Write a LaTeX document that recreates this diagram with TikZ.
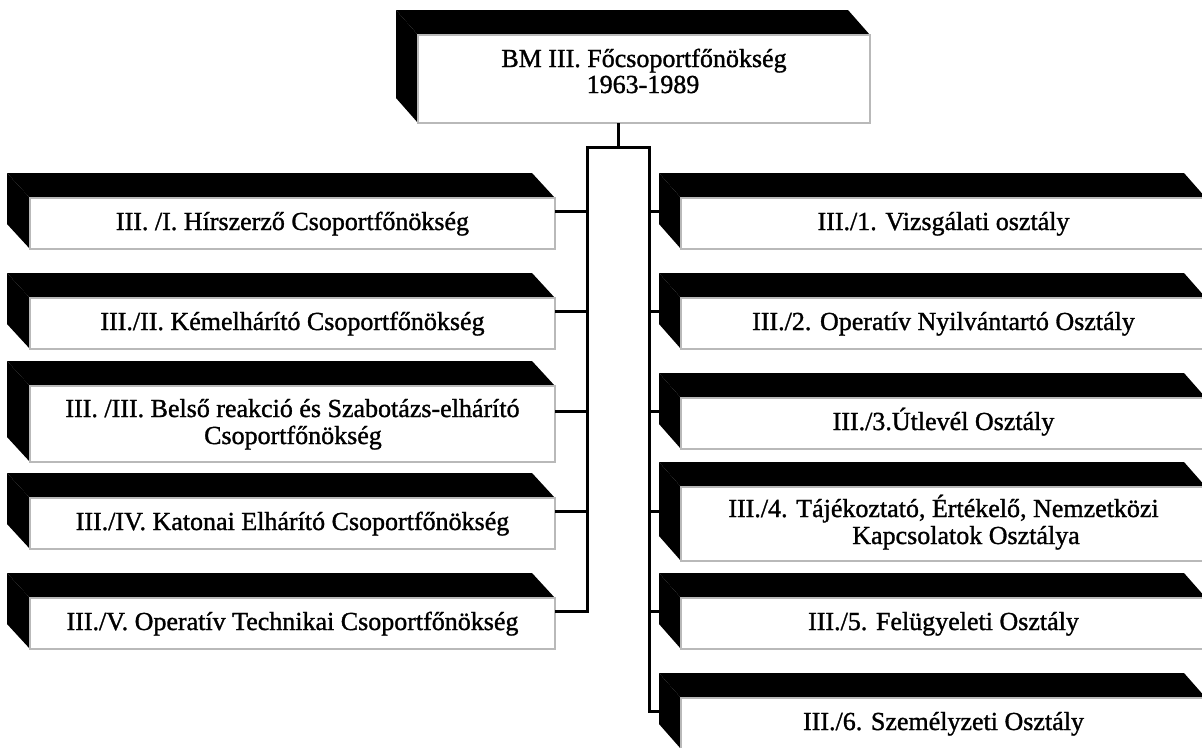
\documentclass[tikz,border=0pt]{standalone}
\usepackage{fontspec}
\setmainfont{Liberation Serif}
\newfontfamily\heavyserif[FakeBold=1.2]{Liberation Serif}
\tikzset{
  face/.style={draw=gray!55, line width=1.2pt, fill=white, inner sep=0pt, outer sep=0pt},
  txt/.style={font=\heavyserif\fontsize{26}{26}\selectfont, anchor=base, inner sep=0pt},
  link/.style={line width=3pt, draw=black},
  slab/.style={fill=black},
}
% #1 name, #2 x1, #3 front top, #4 x2, #5 bottom, #6 dx, #7 dy
\newcommand{\cubebox}[7]{%
  \fill[slab] ({#2-#6},{#3-#7}) -- ({#4-#6},{#3-#7}) -- (#4,#3) -- (#2,#3) -- cycle;
  \fill[slab] ({#2-#6},{#3-#7}) -- (#2,#3) -- (#2,#5) -- ({#2-#6},{#5-#7}) -- cycle;
  \node[face, minimum width={(#4-#2)*1pt}, minimum height={(#5-#3)*1pt}] (#1) at ({(#2+#4)/2},{(#3+#5)/2}) {};
  \coordinate (#1-l) at ({#2-#6},{(#3-#7+#5)/2});
  \coordinate (#1-r) at (#4,{(#3-#7+#5)/2});
}
\begin{document}
\begin{tikzpicture}[x=1pt,y=-1pt]
\useasboundingbox (0,0) rectangle (1202,747);
\fill[white] (0,0) rectangle (1202,747);

% top box
\cubebox{top}{418}{35}{870}{123}{22}{25}
\node[txt] (top-t1) at (644,67) {BM III. Főcsoportfőnökség};
\node[txt] (top-t2) at (643,93) {1963-1989};

% left column
\cubebox{L1}{30}{198}{555}{249}{23}{25}
\cubebox{L2}{30}{298}{555}{349}{23}{25}
\cubebox{L3}{30}{386}{555}{462}{23}{25}
\cubebox{L4}{30}{498}{555}{549}{23}{25}
\cubebox{L5}{30}{598}{555}{649}{23}{25}
\node[txt] (L1-t) at (292.5,230) {III. /I. Hírszerző Csoportfőnökség};
\node[txt] (L2-t) at (292.5,330) {III./II. Kémelhárító Csoportfőnökség};
\node[txt] (L3-t1) at (292.5,417) {III. /III. Belső reakció és Szabotázs-elhárító};
\node[txt] (L3-t2) at (293,444) {Csoportfőnökség};
\node[txt] (L4-t) at (292.5,530) {III./IV. Katonai Elhárító Csoportfőnökség};
\node[txt] (L5-t) at (292.5,630) {III./V. Operatív Technikai Csoportfőnökség};

% right column
\cubebox{R1}{681}{198}{1206}{249}{22}{25}
\cubebox{R2}{681}{298}{1206}{349}{22}{25}
\cubebox{R3}{681}{398}{1206}{449}{22}{25}
\cubebox{R4}{681}{487}{1206}{561}{22}{25}
\cubebox{R5}{681}{598}{1206}{649}{22}{25}
\cubebox{R6}{681}{698}{1206}{749}{22}{25}
\node[txt] (R1-t) at (943.5,230) {III./1. Vizsgálati osztály};
\node[txt] (R2-t) at (943.5,330) {III./2. Operatív Nyilvántartó Osztály};
\node[txt] (R3-t) at (943.5,430) {III./3.Útlevél Osztály};
\node[txt] (R4-t1) at (943.5,517) {III./4. Tájékoztató, Értékelő, Nemzetközi};
\node[txt] (R4-t2) at (966,544) {Kapcsolatok Osztálya};
\node[txt] (R5-t) at (943.5,630) {III./5. Felügyeleti Osztály};
\node[txt] (R6-t) at (943.5,730) {III./6. Személyzeti Osztály};

% connectors
\coordinate (hub) at (618,147);
\coordinate (lt) at (587,147);
\coordinate (rt) at (649,147);
\draw[link] (hub |- top.south) -- (hub);
\draw[link] (L5-r) -| (lt) -- (rt) |- (R6-l);
\foreach \b in {L1,L2,L3,L4}{\draw[link] (\b-r) -- (\b-r -| lt);}
\foreach \b in {R1,R2,R3,R4,R5}{\draw[link] (\b-l) -- (\b-l -| rt);}
\end{tikzpicture}
\end{document}
